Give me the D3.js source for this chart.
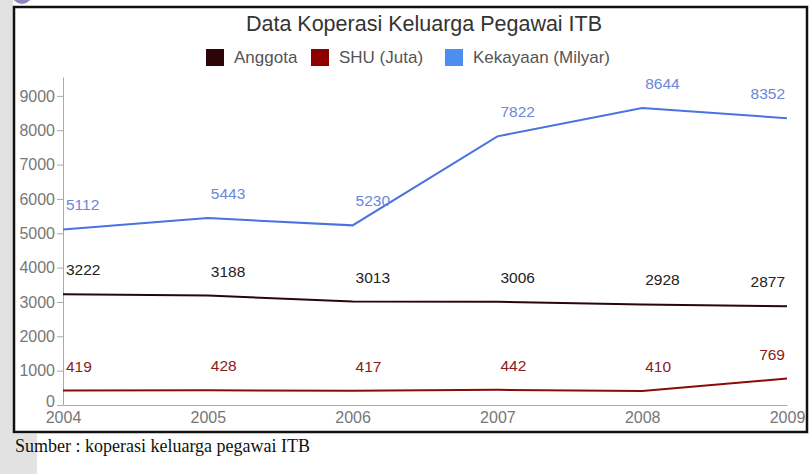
<!DOCTYPE html>
<html>
<head>
<meta charset="utf-8">
<script src="https://cdn.jsdelivr.net/npm/d3@7"></script>
<style>
  body { margin: 0; background: #fff; }
  svg { display: block; }
</style>
</head>
<body>
<div id="chart"></div>
<script>
// données
const years = ["2004", "2005", "2006", "2007", "2008", "2009"];
const anggota = [3222, 3188, 3013, 3006, 2928, 2877];
const shu = [419, 428, 417, 442, 410, 769];
const kekayaan = [5112, 5443, 5230, 7822, 8644, 8352];
const seriesNames = ["Anggota", "SHU (Juta)", "Kekayaan (Milyar)"];
const yTicks = [0, 1000, 2000, 3000, 4000, 5000, 6000, 7000, 8000, 9000];

const W = 811, H = 474;
const colors = { line: ["#2a0608", "#8a0a0a", "#4a72e0"], legend: ["#2d0508", "#8c0000", "#4e8ef0"], label: ["#222", "#8b1a1a", "#6a88d8"] };

const svg = d3.select("#chart").append("svg")
    .attr("width", W)
    .attr("height", H);

// fond gris du scan
svg.append("rect").attr("x", 0).attr("y", 0).attr("width", 13).attr("height", H).attr("fill", "#e2e2e2");
svg.append("rect").attr("x", 0).attr("y", 434).attr("width", 37).attr("height", H - 434).attr("fill", "#e2e2e2");
svg.append("circle").attr("cx", 22).attr("cy", -6).attr("r", 10).attr("fill", "#8f84c0");

// cadre
svg.append("rect")
    .attr("x", 14).attr("y", 7)
    .attr("width", 793).attr("height", 425)
    .attr("fill", "#fff")
    .attr("stroke", "#111")
    .attr("stroke-width", 2.5);

// titre
svg.append("text")
    .attr("x", 424).attr("y", 31)
    .attr("text-anchor", "middle")
    .style("font-family", "Liberation Sans, Arial, sans-serif")
    .style("font-size", "21.5px")
    .style("fill", "#333")
    .text("Data Koperasi Keluarga Pegawai ITB");

// légende
const legendX = [206, 311, 445];
seriesNames.forEach(function(name, i) {
    svg.append("rect")
        .attr("x", legendX[i]).attr("y", 49)
        .attr("width", 18).attr("height", 17)
        .attr("fill", colors.legend[i]);
    svg.append("text")
        .attr("x", legendX[i] + 28).attr("y", 63)
        .style("font-family", "Liberation Sans, Arial, sans-serif")
        .style("font-size", "17px")
        .style("fill", "#555")
        .text(name);
});

// échelles
const x = d3.scalePoint().domain(years).range([63, 787]);
const y = d3.scaleLinear().domain([0, 9550]).range([405, 77]);

const axisStyle = function(g) {
    g.selectAll("path, line").attr("stroke", "#aaa");
    g.selectAll("text")
        .style("font-family", "Liberation Sans, Arial, sans-serif")
        .style("font-size", "16px")
        .style("fill", "#777");
};

const yAxis = svg.append("g")
    .attr("transform", "translate(63,0)")
    .call(d3.axisLeft(y).tickValues(yTicks).tickFormat(d3.format("d")).tickSize(6).tickSizeOuter(0).tickPadding(2))
    .call(axisStyle);
// le "0" remonte un peu pour laisser la place à 2004
yAxis.selectAll(".tick text").filter(function(d) { return d === 0; }).attr("dy", "0.1em");

svg.append("g")
    .attr("transform", "translate(0,405)")
    .call(d3.axisBottom(x).tickSize(0).tickPadding(7))
    .call(axisStyle);

// lignes
const allSeries = [anggota, shu, kekayaan];
const line = d3.line()
    .x(function(d, i) { return x(years[i]); })
    .y(function(d) { return y(d); });

allSeries.forEach(function(vals, s) {
    svg.append("path")
        .datum(vals)
        .attr("fill", "none")
        .attr("stroke", colors.line[s])
        .attr("stroke-width", 2)
        .attr("d", line);

    svg.selectAll(null)
        .data(vals)
        .join("text")
        .attr("x", function(d, i) { return i === years.length - 1 ? x(years[i]) - 2 : x(years[i]) + 3; })
        .attr("y", function(d) { return y(d) - 19; })
        .attr("text-anchor", function(d, i) { return i === years.length - 1 ? "end" : "start"; })
        .style("font-family", "Liberation Sans, Arial, sans-serif")
        .style("font-size", "15.5px")
        .style("fill", colors.label[s])
        .text(function(d) { return d; });
});

// source
svg.append("text")
    .attr("x", 15).attr("y", 452)
    .style("font-family", "Liberation Serif, Times New Roman, serif")
    .style("font-size", "18px")
    .style("fill", "#111")
    .text("Sumber : koperasi keluarga pegawai ITB");
</script>
</body>
</html>
